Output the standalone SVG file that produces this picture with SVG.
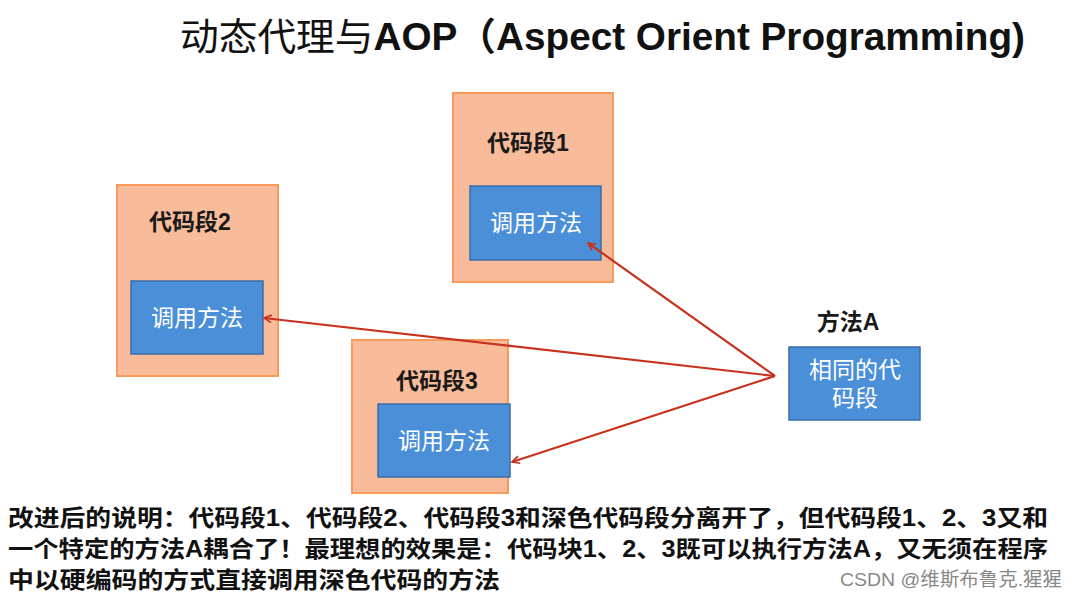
<svg xmlns="http://www.w3.org/2000/svg" width="1072" height="598" viewBox="0 0 1072 598">
<defs>
<style>
.outer{fill:#F9BC9A;stroke:#F79A5C;stroke-width:2}
.inner{fill:#4A8FD8;stroke:#3A6EA8;stroke-width:1.5}
.lbl{font-family:"Liberation Sans","Noto Sans CJK SC",sans-serif;font-weight:bold;font-size:23px;fill:#1a1a1a;text-anchor:middle}
.in{font-family:"Liberation Sans","Noto Sans CJK SC",sans-serif;font-size:23px;fill:#ffffff;text-anchor:middle}
.conn{stroke:#C8321E;stroke-width:2.2;fill:none;marker-end:url(#arr)}
.body{font-family:"Liberation Sans","Noto Sans CJK SC",sans-serif;font-weight:bold;font-size:23px;fill:#111}
</style>
<marker id="arr" viewBox="0 0 12 12" refX="11" refY="6" markerWidth="9" markerHeight="9" markerUnits="userSpaceOnUse" orient="auto">
<path d="M1,1 L11,6 L1,11" fill="none" stroke="#C8321E" stroke-width="2.2"/>
</marker>
</defs>
<rect width="1072" height="598" fill="#ffffff"/>
<text x="180" y="50" font-family="Liberation Sans,'Noto Sans CJK SC',sans-serif" font-size="38" fill="#111" textLength="845" lengthAdjust="spacingAndGlyphs"><tspan>动态代理与</tspan><tspan font-weight="bold">AOP（Aspect Orient Programming)</tspan></text>
<g id="seg1">
<rect class="outer" x="453" y="93" width="160" height="189"/>
<text class="lbl" x="528" y="151">代码段1</text>
<rect class="inner" x="470" y="186" width="131" height="74"/>
<text class="in" x="536" y="231">调用方法</text>
</g>
<g id="seg2">
<rect class="outer" x="117" y="185" width="161" height="191"/>
<text class="lbl" x="190" y="230">代码段2</text>
<rect class="inner" x="131" y="281" width="132" height="73"/>
<text class="in" x="197" y="326">调用方法</text>
</g>
<g id="seg3">
<rect class="outer" x="352" y="340" width="156" height="153"/>
<text class="lbl" x="437" y="389">代码段3</text>
<rect class="inner" x="378" y="404" width="132" height="73"/>
<text class="in" x="444" y="449">调用方法</text>
</g>
<g id="methodA">
<text class="lbl" x="848" y="330">方法A</text>
<rect class="inner" x="789" y="347" width="131" height="73"/>
<text class="in" x="855" y="378">相同的代</text>
<text class="in" x="855" y="406">码段</text>
</g>
<g id="connectors">
<line class="conn" x1="775" y1="376" x2="588" y2="243"/>
<line class="conn" x1="775" y1="376" x2="264" y2="318"/>
<line class="conn" x1="775" y1="376" x2="512" y2="462"/>
</g>
<g id="note">
<text class="body" x="8" y="526" textLength="1040" lengthAdjust="spacingAndGlyphs">改进后的说明：代码段1、代码段2、代码段3和深色代码段分离开了，但代码段1、2、3又和</text>
<text class="body" x="8" y="557" textLength="1040" lengthAdjust="spacingAndGlyphs">一个特定的方法A耦合了！最理想的效果是：代码块1、2、3既可以执行方法A，又无须在程序</text>
<text class="body" x="8" y="588" textLength="492" lengthAdjust="spacingAndGlyphs">中以硬编码的方式直接调用深色代码的方法</text>
<text x="840" y="586" font-family="Liberation Sans,'Noto Sans CJK SC',sans-serif" font-size="19" fill="#888" textLength="222" lengthAdjust="spacingAndGlyphs">CSDN @维斯布鲁克.猩猩</text>
</g>
</svg>
